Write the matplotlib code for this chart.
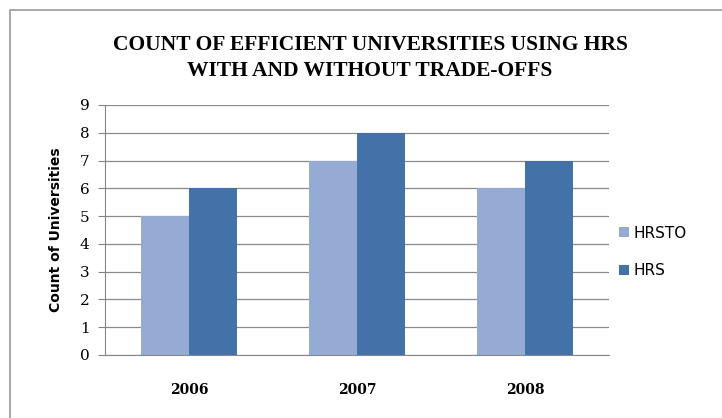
import numpy as np
import matplotlib.pyplot as plt
from matplotlib.patches import Rectangle

# Data
years = ["2006", "2007", "2008"]
hrsto = [5, 7, 6]
hrs = [6, 8, 7]

fig = plt.figure(figsize=(7.22, 4.18), dpi=100)

# chart border
fig.patches.append(Rectangle((10 / 722, -0.05), 1.0, (418 - 10) / 418 + 0.05,
                             transform=fig.transFigure, fill=False,
                             edgecolor="#9a9a9a", linewidth=1.2))

ax = fig.add_axes([105 / 722, 63 / 418, 504 / 722, 250 / 418])

x = np.arange(len(years))
w = 48 / 168
b1 = ax.bar(x - w / 2, hrsto, width=w, color="#95abd3", label="HRSTO", zorder=3)
b2 = ax.bar(x + w / 2, hrs, width=w, color="#4471a7", label="HRS", zorder=3)

ax.set_xlim(-0.5, 2.5)
ax.set_ylim(0, 9)
ax.set_yticks(range(0, 10))
ax.set_xticks(x)
ax.set_xticklabels(years, family="DejaVu Serif", fontsize=10, fontweight="bold")
for t in ax.get_yticklabels():
    t.set_family("DejaVu Serif")
    t.set_fontsize(11)
ax.tick_params(axis="x", length=0, pad=20)
ax.tick_params(axis="y", length=5, color="#868686", pad=6)

ax.grid(axis="y", color="#8a8a8a", linewidth=0.9, zorder=0)
for s in ["top", "right"]:
    ax.spines[s].set_visible(False)
ax.spines["left"].set_color("#868686")
ax.spines["bottom"].set_color("#868686")

ax.set_ylabel("Count of Universities", fontsize=10, fontweight="bold", labelpad=12)

fig.text(370 / 722, 1 - 58 / 418,
         "COUNT OF EFFICIENT UNIVERSITIES USING HRS\nWITH AND WITHOUT TRADE-OFFS",
         ha="center", va="center", family="Liberation Serif", fontweight="bold",
         fontsize=15.5, linespacing=1.35)

fig.legend(handles=[b1, b2], labels=["HRSTO", "HRS"], loc="center left",
           bbox_to_anchor=(605 / 722, 1 - 252 / 418), frameon=False,
           fontsize=11, handlelength=0.65, handleheight=0.65, handletextpad=0.3,
           labelspacing=1.5)

fig.savefig("out.png", dpi=100)
